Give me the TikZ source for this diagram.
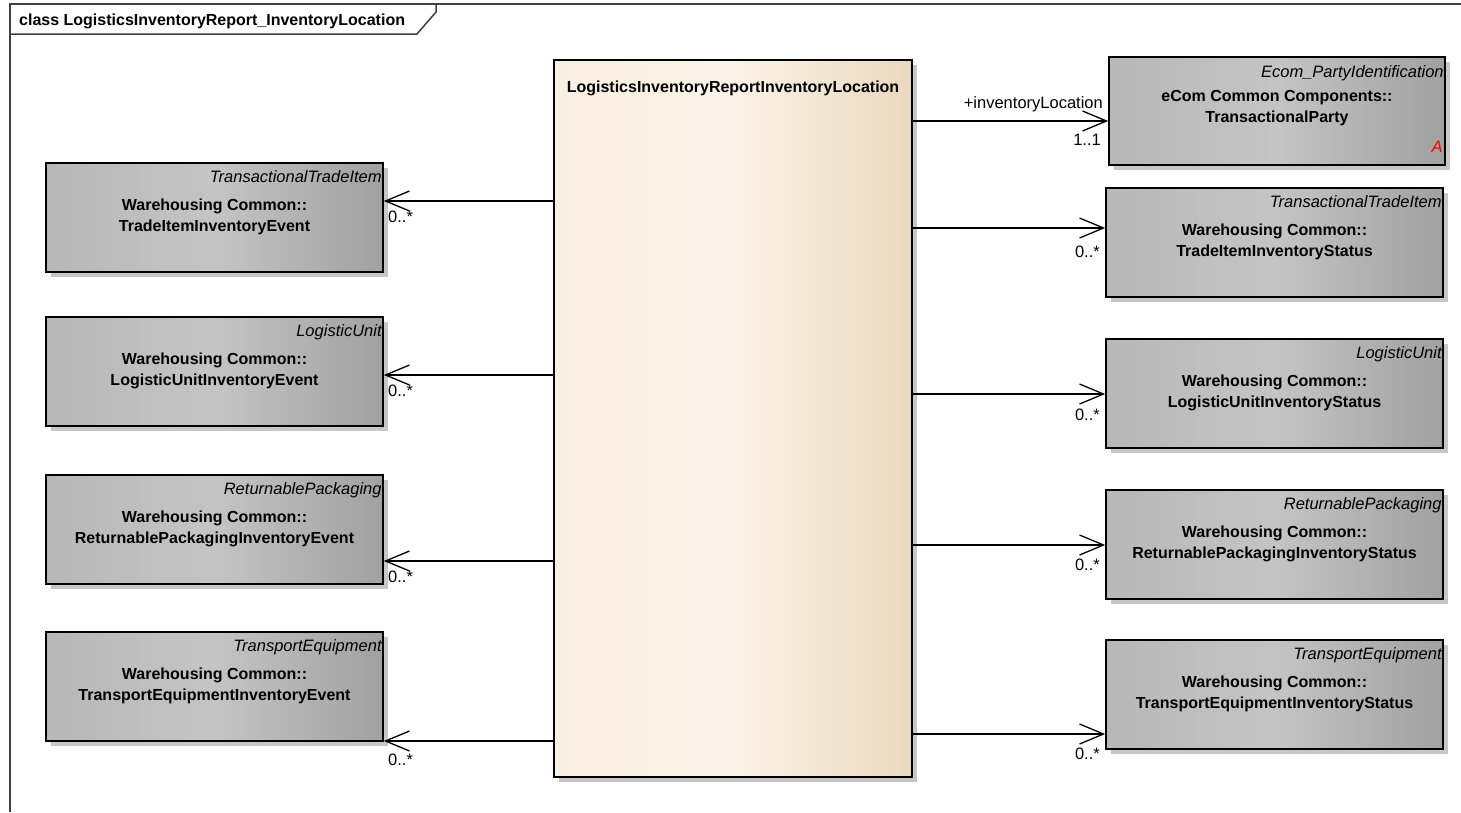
\documentclass[tikz,border=0pt]{standalone}
\usepackage{fontspec}
\setmainfont{Liberation Sans}
\usetikzlibrary{arrows.meta,shadows}
\definecolor{boxl}{gray}{0.72}
\definecolor{boxm}{gray}{0.77}
\definecolor{boxr}{gray}{0.63}
\definecolor{locl}{RGB}{250,240,226}
\definecolor{locm}{RGB}{251,243,232}
\definecolor{locr}{RGB}{234,217,190}
\definecolor{shadowgray}{gray}{0.78}
\definecolor{framegray}{gray}{0.25}

\begin{document}
\begin{tikzpicture}[x=1pt,y=-1pt,
    cls/.style={draw, line width=1.6pt, minimum width=337pt, minimum height=109pt, inner sep=0pt,
      left color=boxl, right color=boxr, middle color=boxm,
      drop shadow={shadow xshift=5pt, shadow yshift=-5pt, fill=shadowgray, opacity=1}},
    stereo/.style={font=\itshape\fontsize{16.5}{20}\selectfont, inner sep=0pt, anchor=base east},
    cname/.style={font=\bfseries\fontsize{16}{21}\selectfont, align=center, inner sep=0pt, anchor=base},
    mult/.style={font=\fontsize{16.5}{20}\selectfont, inner sep=0pt},
    assoc/.style={line width=1.3pt, -{Straight Barb[length=24pt,width=20pt]}}]
  \useasboundingbox (0,0) rectangle (1461,812);

  \draw[framegray, line width=1.5pt] (10,812) -- (10,4) -- (1461,4);
  \draw[framegray, line width=1.5pt] (10,34) -- (417,34) -- (436,12) -- (436,4);
  \node[font=\bfseries\fontsize{16}{20}\selectfont, anchor=base west, inner sep=0pt] (title) at (19,25) {class LogisticsInventoryReport\_InventoryLocation};

  \node[cls, minimum width=358pt, minimum height=717pt, left color=locl, right color=locr, middle color=locm] (loc) at (733,418.5) {};
  \node[cname] (locname) at (733,92) {LogisticsInventoryReportInventoryLocation};

  \node[cls] (tiev) at (214.5,217.5) {};
  \node[stereo] (tievs) at ([xshift=-2pt,yshift=-20pt]tiev.north east) {TransactionalTradeItem};
  \node[cname] (tievn) at ([yshift=-69pt]tiev.north) {Warehousing Common::\\TradeItemInventoryEvent};

  \node[cls] (luev) at (214.5,371.5) {};
  \node[stereo] (luevs) at ([xshift=-2pt,yshift=-20pt]luev.north east) {LogisticUnit};
  \node[cname] (luevn) at ([yshift=-69pt]luev.north) {Warehousing Common::\\LogisticUnitInventoryEvent};

  \node[cls] (rpev) at (214.5,529.5) {};
  \node[stereo] (rpevs) at ([xshift=-2pt,yshift=-20pt]rpev.north east) {ReturnablePackaging};
  \node[cname] (rpevn) at ([yshift=-69pt]rpev.north) {Warehousing Common::\\ReturnablePackagingInventoryEvent};

  \node[cls] (teev) at (214.5,686.5) {};
  \node[stereo] (teevs) at ([xshift=-2pt,yshift=-20pt]teev.north east) {TransportEquipment};
  \node[cname] (teevn) at ([yshift=-69pt]teev.north) {Warehousing Common::\\TransportEquipmentInventoryEvent};

  \node[cls, minimum width=336pt, minimum height=108pt] (party) at (1277,111) {};
  \node[stereo] (partys) at ([xshift=-2pt,yshift=-21pt]party.north east) {Ecom\_PartyIdentification};
  \node[cname] (partyn) at ([yshift=-66pt]party.north) {eCom Common Components::\\TransactionalParty};
  \node[stereo, text=red] (partya) at ([xshift=-3pt,yshift=13pt]party.south east) {A};

  \node[cls] (tist) at (1274.5,242.5) {};
  \node[stereo] (tists) at ([xshift=-2pt,yshift=-20pt]tist.north east) {TransactionalTradeItem};
  \node[cname] (tistn) at ([yshift=-69pt]tist.north) {Warehousing Common::\\TradeItemInventoryStatus};

  \node[cls] (lust) at (1274.5,393.5) {};
  \node[stereo] (lusts) at ([xshift=-2pt,yshift=-20pt]lust.north east) {LogisticUnit};
  \node[cname] (lustn) at ([yshift=-69pt]lust.north) {Warehousing Common::\\LogisticUnitInventoryStatus};

  \node[cls] (rpst) at (1274.5,544.5) {};
  \node[stereo] (rpsts) at ([xshift=-2pt,yshift=-20pt]rpst.north east) {ReturnablePackaging};
  \node[cname] (rpstn) at ([yshift=-69pt]rpst.north) {Warehousing Common::\\ReturnablePackagingInventoryStatus};

  \node[cls] (test) at (1274.5,694.5) {};
  \node[stereo] (tests) at ([xshift=-2pt,yshift=-20pt]test.north east) {TransportEquipment};
  \node[cname] (testn) at ([yshift=-69pt]test.north) {Warehousing Common::\\TransportEquipmentInventoryStatus};

  \draw[assoc] (loc.west |- 0,201) -- (tiev.east |- 0,201);
  \draw[assoc] (loc.west |- 0,375) -- (luev.east |- 0,375);
  \draw[assoc] (loc.west |- 0,561) -- (rpev.east |- 0,561);
  \draw[assoc] (loc.west |- 0,741) -- (teev.east |- 0,741);
  \node[mult, anchor=base west] (m1) at (388,222) {0..*};
  \node[mult, anchor=base west] (m2) at (388,396) {0..*};
  \node[mult, anchor=base west] (m3) at (388,582) {0..*};
  \node[mult, anchor=base west] (m4) at (388,765) {0..*};

  \draw[assoc] (loc.east |- 0,121) -- (party.west |- 0,121);
  \node[mult, anchor=base east] (role) at (1103,108) {+inventoryLocation};
  \node[mult, anchor=base east] (m5) at (1101,145) {1..1};
  \draw[assoc] (loc.east |- 0,228) -- (tist.west |- 0,228);
  \draw[assoc] (loc.east |- 0,394) -- (lust.west |- 0,394);
  \draw[assoc] (loc.east |- 0,545) -- (rpst.west |- 0,545);
  \draw[assoc] (loc.east |- 0,734) -- (test.west |- 0,734);
  \node[mult, anchor=base east] (m6) at (1100,257) {0..*};
  \node[mult, anchor=base east] (m7) at (1100,420) {0..*};
  \node[mult, anchor=base east] (m8) at (1100,570) {0..*};
  \node[mult, anchor=base east] (m9) at (1100,759) {0..*};
\end{tikzpicture}
\end{document}
